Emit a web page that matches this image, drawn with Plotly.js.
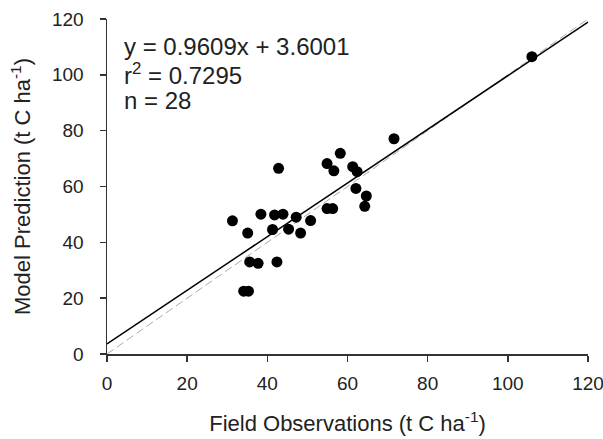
<!DOCTYPE html>
<html><head><meta charset="utf-8">
<script src="https://cdn.plot.ly/plotly-3.0.1.min.js"></script>
<style>body{margin:0;padding:0;background:#fff}#c{width:603px;height:439px}</style>
</head><body><div id="c"></div>
<script>
const fieldObs = [71.6, 58.2, 54.9, 56.6, 61.3, 62.4, 42.8, 62.1, 64.7, 64.3, 54.9, 56.3, 31.3, 38.4, 41.8, 43.9, 47.2, 50.8, 41.3, 45.3, 48.3, 35.1, 35.6, 37.7, 42.4, 34.1, 35.3, 106.0];
const modelPred = [77.1, 71.9, 68.2, 65.6, 67.1, 65.3, 66.5, 59.3, 56.6, 52.9, 52.1, 52.1, 47.7, 50.1, 49.8, 50.1, 49.0, 47.8, 44.6, 44.7, 43.3, 43.3, 33.0, 32.5, 33.0, 22.5, 22.5, 106.5];
const slope = 0.9609, intercept = 3.6001;
const lineX = [0, 120];
const xTicks = [0, 20, 40, 60, 80, 100, 120];
const yTicks = [0, 20, 40, 60, 80, 100, 120];
const statLines = ["y = 0.9609x + 3.6001", "r<sup>2</sup> = 0.7295", "n = 28"];

const font = "Liberation Sans, Arial, sans-serif";
const traces = [
  {x: lineX, y: lineX, mode: 'lines', line: {color: '#aaaaaa', width: 1, dash: '8px,4px'}, hoverinfo: 'skip'},
  {x: lineX, y: lineX.map(v => slope * v + intercept), mode: 'lines', line: {color: '#000', width: 1.5}, hoverinfo: 'skip'},
  {x: fieldObs, y: modelPred, mode: 'markers', marker: {color: '#000', size: 11}}
];
const layout = {
  width: 603, height: 439,
  margin: {l: 107, r: 15, t: 19, b: 85},
  paper_bgcolor: '#fff', plot_bgcolor: '#fff',
  showlegend: false,
  font: {family: font, size: 19, color: '#222'},
  xaxis: {range: [0, 120], tickvals: xTicks, ticks: 'outside', ticklen: 6, tickwidth: 1.5, tickcolor: '#333',
          ticklabelstandoff: 6, ticklabeloverflow: 'allow',
          showline: true, linecolor: '#333', linewidth: 1.5, showgrid: false, zeroline: false,
          tickfont: {size: 19}, title: {text: 'Field Observations (t C ha<sup>-1</sup>)', font: {size: 22}, standoff: 22}},
  yaxis: {range: [0, 120], tickvals: yTicks, ticks: 'outside', ticklen: 6, tickwidth: 1.5, tickcolor: '#333',
          ticklabelstandoff: 12, ticklabeloverflow: 'allow',
          showline: true, linecolor: '#333', linewidth: 1.5, showgrid: false, zeroline: false,
          tickfont: {size: 19}, title: {text: 'Model Prediction (t C ha<sup>-1</sup>)', font: {size: 22}, standoff: 15}},
  annotations: statLines.map((t, i) => ({
    text: t, xref: 'paper', yref: 'paper', x: 0.031, y: 1 - (0.082 + i * 0.081),
    xanchor: 'left', yanchor: 'middle', showarrow: false, font: {size: 24, family: font, color: '#222'}
  }))
};
Plotly.newPlot('c', traces, layout, {displayModeBar: false, staticPlot: true});
</script></body></html>
